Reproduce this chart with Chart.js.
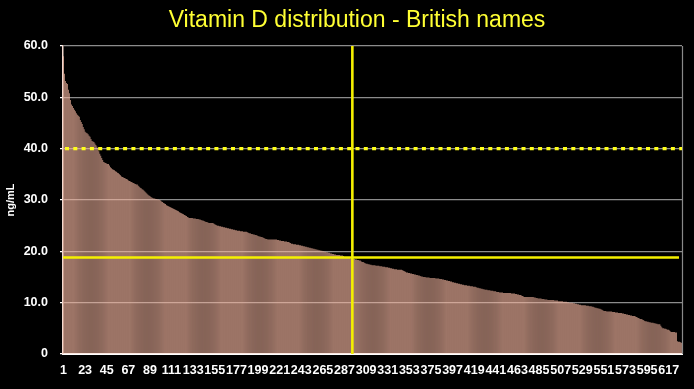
<!DOCTYPE html>
<html>
<head>
<meta charset="utf-8">
<script src="https://cdn.jsdelivr.net/npm/chart.js@4/dist/chart.umd.min.js"></script>
<style>
  html, body { margin: 0; padding: 0; background: #000; }
  #wrap { width: 694px; height: 389px; position: relative; }
</style>
</head>
<body>
<div id="wrap"><canvas id="c"></canvas></div>
<script>
const TITLE = 'Vitamin D distribution - British names';
const Y_TITLE = 'ng/mL';

// Sorted vitamin D values (ng/mL), one per person
const VALUES = [
  58.0, 54.6, 53.2, 52.8, 52.6, 51.5, 50.8, 49.5, 48.6, 48.3,
  47.9, 47.6, 47.3, 46.9, 46.6, 46.4, 46.2, 45.6, 45.2, 44.8,
  44.2, 43.8, 43.3, 43.1, 43.0, 42.8, 42.5, 42.3, 41.9, 41.5,
  41.4, 41.3, 41.0, 40.7, 40.4, 40.1, 39.5, 39.0, 38.6, 38.2,
  37.8, 37.4, 37.3, 37.2, 37.1, 37.0, 37.0, 36.7, 36.4, 36.2,
  36.0, 35.9, 35.8, 35.6, 35.5, 35.3, 35.2, 35.0, 34.8, 34.6,
  34.5, 34.4, 34.3, 34.2, 34.1, 34.0, 33.8, 33.7, 33.6, 33.5,
  33.4, 33.3, 33.2, 33.1, 33.0, 33.0, 32.8, 32.6, 32.4, 32.3,
  32.1, 32.0, 31.8, 31.6, 31.4, 31.2, 31.0, 30.9, 30.8, 30.6,
  30.5, 30.4, 30.3, 30.3, 30.2, 30.2, 30.1, 30.1, 30.0, 29.9,
  29.7, 29.6, 29.4, 29.3, 29.2, 29.0, 28.9, 28.8, 28.7, 28.6,
  28.5, 28.4, 28.3, 28.2, 28.1, 28.0, 27.9, 27.8, 27.6, 27.5,
  27.4, 27.3, 27.2, 27.1, 27.0, 26.9, 26.7, 26.6, 26.5, 26.5,
  26.5, 26.5, 26.4, 26.4, 26.4, 26.3, 26.3, 26.3, 26.2, 26.2,
  26.1, 26.0, 26.0, 25.9, 25.8, 25.7, 25.7, 25.6, 25.5, 25.5,
  25.5, 25.5, 25.5, 25.4, 25.3, 25.2, 25.1, 25.0, 25.0, 24.9,
  24.9, 24.8, 24.8, 24.7, 24.7, 24.6, 24.6, 24.5, 24.5, 24.4,
  24.4, 24.3, 24.3, 24.2, 24.2, 24.1, 24.1, 24.0, 24.0, 24.0,
  23.9, 23.9, 23.9, 23.8, 23.8, 23.8, 23.8, 23.7, 23.6, 23.5,
  23.5, 23.4, 23.4, 23.3, 23.3, 23.2, 23.2, 23.1, 23.0, 22.9,
  22.9, 22.8, 22.8, 22.7, 22.6, 22.5, 22.4, 22.4, 22.3, 22.3,
  22.3, 22.3, 22.3, 22.3, 22.3, 22.3, 22.3, 22.3, 22.2, 22.2,
  22.1, 22.1, 22.0, 22.0, 22.0, 21.9, 21.9, 21.9, 21.8, 21.8,
  21.7, 21.6, 21.5, 21.5, 21.4, 21.4, 21.4, 21.3, 21.3, 21.3,
  21.2, 21.2, 21.1, 21.1, 21.0, 21.0, 20.9, 20.9, 20.8, 20.8,
  20.7, 20.7, 20.6, 20.6, 20.5, 20.5, 20.4, 20.4, 20.3, 20.3,
  20.2, 20.2, 20.1, 20.1, 20.0, 20.0, 19.9, 19.9, 19.8, 19.8,
  19.7, 19.7, 19.6, 19.6, 19.5, 19.5, 19.4, 19.4, 19.3, 19.3,
  19.3, 19.3, 19.2, 19.2, 19.2, 19.1, 18.9, 18.8, 18.8, 18.7,
  18.7, 18.7, 18.6, 18.6, 18.6, 18.5, 18.5, 18.4, 18.4, 18.3,
  18.3, 18.2, 18.2, 18.0, 17.9, 17.9, 17.8, 17.7, 17.6, 17.6,
  17.5, 17.5, 17.4, 17.4, 17.3, 17.3, 17.3, 17.3, 17.2, 17.2,
  17.2, 17.2, 17.1, 17.1, 17.1, 17.0, 17.0, 17.0, 16.9, 16.9,
  16.9, 16.8, 16.8, 16.7, 16.7, 16.6, 16.6, 16.5, 16.5, 16.5,
  16.4, 16.4, 16.4, 16.4, 16.4, 16.3, 16.2, 16.1, 16.0, 15.9,
  15.9, 15.8, 15.8, 15.7, 15.7, 15.6, 15.6, 15.5, 15.5, 15.4,
  15.4, 15.3, 15.3, 15.2, 15.1, 15.1, 15.0, 15.0, 15.0, 14.9,
  14.9, 14.9, 14.9, 14.8, 14.8, 14.8, 14.8, 14.8, 14.8, 14.7,
  14.7, 14.7, 14.7, 14.6, 14.6, 14.6, 14.5, 14.5, 14.4, 14.4,
  14.3, 14.3, 14.2, 14.2, 14.1, 14.1, 14.0, 14.0, 13.9, 13.9,
  13.8, 13.8, 13.7, 13.7, 13.6, 13.6, 13.5, 13.5, 13.4, 13.4,
  13.4, 13.3, 13.3, 13.3, 13.2, 13.2, 13.2, 13.1, 13.1, 13.1,
  13.0, 12.9, 12.9, 12.8, 12.8, 12.7, 12.7, 12.6, 12.6, 12.5,
  12.5, 12.5, 12.4, 12.4, 12.4, 12.3, 12.3, 12.3, 12.2, 12.2,
  12.2, 12.1, 12.1, 12.1, 12.0, 12.0, 12.0, 12.0, 11.9, 11.9,
  11.9, 11.9, 11.9, 11.9, 11.9, 11.9, 11.8, 11.8, 11.8, 11.8,
  11.7, 11.7, 11.6, 11.6, 11.5, 11.5, 11.4, 11.3, 11.2, 11.1,
  11.1, 11.1, 11.1, 11.1, 11.1, 11.1, 11.1, 11.1, 11.1, 11.0,
  11.0, 10.9, 10.9, 10.8, 10.8, 10.8, 10.8, 10.7, 10.7, 10.7,
  10.6, 10.6, 10.6, 10.5, 10.5, 10.5, 10.5, 10.5, 10.5, 10.5,
  10.4, 10.4, 10.4, 10.4, 10.3, 10.3, 10.3, 10.3, 10.3, 10.2,
  10.2, 10.2, 10.2, 10.1, 10.1, 10.0, 10.0, 10.0, 10.0, 9.9,
  9.9, 9.8, 9.8, 9.7, 9.7, 9.6, 9.6, 9.5, 9.5, 9.5,
  9.5, 9.5, 9.4, 9.4, 9.4, 9.3, 9.3, 9.3, 9.2, 9.2,
  9.1, 9.0, 9.0, 8.9, 8.9, 8.8, 8.8, 8.7, 8.6, 8.5,
  8.4, 8.4, 8.4, 8.3, 8.3, 8.3, 8.3, 8.3, 8.3, 8.2,
  8.2, 8.2, 8.1, 8.1, 8.1, 8.0, 8.0, 8.0, 8.0, 7.9,
  7.9, 7.8, 7.8, 7.7, 7.7, 7.6, 7.6, 7.5, 7.5, 7.4,
  7.4, 7.4, 7.3, 7.2, 7.1, 7.0, 6.9, 6.8, 6.8, 6.7,
  6.6, 6.5, 6.4, 6.4, 6.3, 6.3, 6.2, 6.2, 6.1, 6.1,
  6.1, 6.0, 6.0, 5.9, 5.9, 5.8, 5.8, 5.8, 5.5, 5.2,
  5.0, 5.0, 4.9, 4.9, 4.8, 4.7, 4.7, 4.6, 4.4, 4.3,
  4.3, 4.3, 4.3, 4.2, 4.2, 2.5, 2.4, 2.4, 2.3, 2.2
];

// Category labels: person rank 1..N
const CATEGORIES = VALUES.map((_, i) => String(i + 1));

// Tick labels shown on the x axis
const X_TICK_LABELS = ['1','23','45','67','89','111','133','155','177','199','221','243','265','287',
  '309','331','353','375','397','419','441','463','485','507','529','551','573','595','617'];
const Y_TICK_LABELS = ['0','10.0','20.0','30.0','40.0','50.0','60.0'];

// Reference markers
const TARGET_LEVEL = 40;        // dotted yellow line
const MEDIAN_LEVEL = 18.8;      // solid yellow horizontal line
const MEDIAN_CATEGORY = '295';  // solid yellow vertical line

const FONT = '"Liberation Sans", Arial, Helvetica, sans-serif';

const overlay = {
  id: 'overlay',
  afterDatasetsDraw(chart) {
    const { ctx, chartArea: a, scales: { x, y } } = chart;
    ctx.save();
    // right border
    ctx.strokeStyle = '#8a8a8a';
    ctx.lineWidth = 1.2;
    ctx.beginPath();
    ctx.moveTo(a.right + 0.5, a.top);
    ctx.lineTo(a.right + 0.5, a.bottom);
    ctx.stroke();
    // dotted target line
    const yT = y.getPixelForValue(TARGET_LEVEL);
    ctx.strokeStyle = '#ffff1a';
    ctx.lineWidth = 3.4;
    ctx.setLineDash([4, 4.3]);
    ctx.beginPath();
    ctx.moveTo(a.left + 2, yT);
    ctx.lineTo(a.right, yT);
    ctx.stroke();
    ctx.setLineDash([]);
    // median horizontal
    const yM = y.getPixelForValue(MEDIAN_LEVEL);
    ctx.strokeStyle = '#f5f000';
    ctx.lineWidth = 2.6;
    ctx.beginPath();
    ctx.moveTo(a.left, yM);
    ctx.lineTo(a.right - 3, yM);
    ctx.stroke();
    // median vertical
    const xM = x.getPixelForValue(CATEGORIES.indexOf(MEDIAN_CATEGORY));
    ctx.lineWidth = 2.6;
    ctx.beginPath();
    ctx.moveTo(xM, a.top);
    ctx.lineTo(xM, a.bottom);
    ctx.stroke();
    ctx.restore();
  },
  afterDraw(chart) {
    const { ctx } = chart;
    ctx.save();
    ctx.fillStyle = '#ffff33';
    ctx.font = '23px ' + FONT;
    ctx.textAlign = 'center';
    ctx.textBaseline = 'alphabetic';
    ctx.fillText(TITLE, 357, 27);
    ctx.restore();
  }
};

new Chart(document.getElementById('c'), {
  type: 'bar',
  data: {
    labels: CATEGORIES,
    datasets: [{
      data: VALUES,
      backgroundColor: 'rgb(244,182,160)',
      borderWidth: 0,
      barPercentage: 0.65,
      categoryPercentage: 1.0
    }]
  },
  options: {
    responsive: true,
    maintainAspectRatio: false,
    animation: false,
    layout: { padding: { top: 46, right: 12, bottom: 0, left: 0 } },
    plugins: { legend: { display: false }, tooltip: { enabled: false }, title: { display: false } },
    scales: {
      x: {
        grid: { display: true, drawOnChartArea: false, drawTicks: false },
        border: { display: true, color: '#ffffff', width: 2 },
        ticks: {
          autoSkip: false, maxRotation: 0, minRotation: 0, padding: 9,
          color: '#ffffff', font: { family: FONT, size: 12.5, weight: 'bold' },
          callback(value) {
            const lab = this.getLabelForValue(value);
            return X_TICK_LABELS.includes(lab) ? lab : '';
          }
        },
        afterFit(scale) { scale.height = 35; }
      },
      y: {
        min: 0, max: 60,
        grid: { color: '#8c8c8c', lineWidth: 1.2, tickLength: 3, tickColor: '#ffffff' },
        border: { display: true, color: '#f3d9cf', width: 1.5 },
        ticks: {
          stepSize: 10, padding: 12, color: '#ffffff',
          font: { family: FONT, size: 12.5, weight: 'bold' },
          callback(value) { return Y_TICK_LABELS[Math.round(value / 10)]; }
        },
        title: {
          display: true, text: Y_TITLE, color: '#ffffff',
          font: { family: FONT, size: 11, weight: 'bold' },
          padding: { top: 4, bottom: 0 }
        },
        afterFit(scale) { scale.width = 63; }
      }
    }
  },
  plugins: [overlay]
});
</script>
</body>
</html>
